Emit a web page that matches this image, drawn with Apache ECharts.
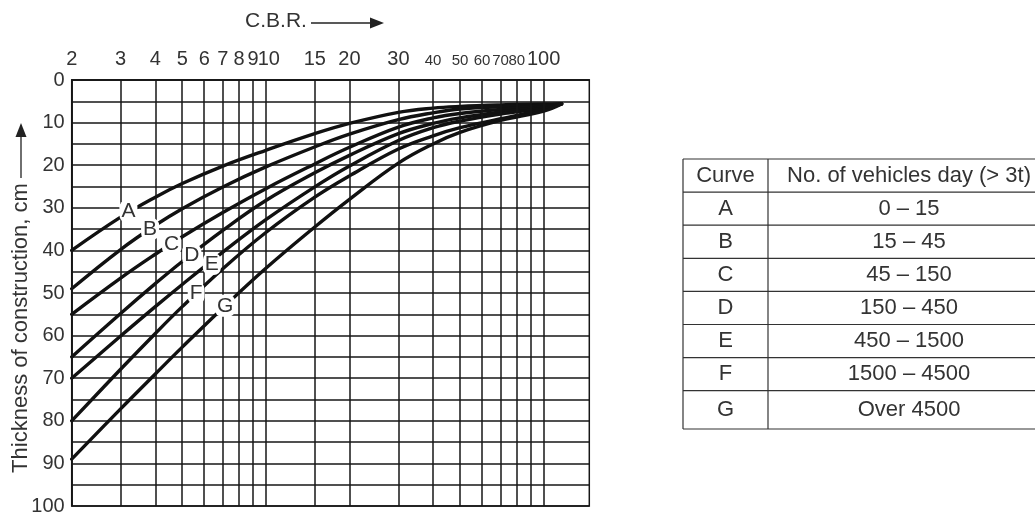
<!DOCTYPE html>
<html><head><meta charset="utf-8">
<script src="https://cdn.jsdelivr.net/npm/echarts@6.0.0/dist/echarts.min.js"></script>
<style>html,body{margin:0;padding:0;background:#fff}#c{width:1035px;height:516px}</style>
</head><body><div id="c"></div>
<script>
// C.B.R. sample points at which the curves were read
const cbr = [2, 3, 4, 5, 7, 10, 15, 20, 30, 40, 50, 70, 100, 116];
// Thickness of construction (cm) for each curve
const curveA = [40, 32.2, 27.5, 24.3, 20.2, 16.5, 12.6, 10.2, 7.6, 6.6, 6.2, 5.85, 5.6, 5.6];
const curveB = [49, 39.8, 34.1, 30.2, 25.1, 20.4, 15.7, 12.7, 9.3, 7.7, 6.8, 6.3, 5.9, 5.6];
const curveC = [55, 46.5, 40.9, 36.8, 31.1, 25.5, 19.7, 15.8, 11.05, 8.9, 7.85, 6.9, 6.0, 5.6];
const curveD = [65, 54.8, 47.8, 42.6, 35.3, 28.3, 21.8, 17.7, 12.6, 10.2, 8.9, 7.5, 6.3, 5.6];
const curveE = [70, 60.1, 53.2, 48.0, 40.4, 32.8, 25.1, 20.2, 14.2, 11.2, 9.65, 8.0, 6.6, 5.6];
const curveF = [80, 67.9, 59.5, 53.2, 44.3, 35.8, 27.5, 22.5, 16.2, 13.1, 11.2, 9.1, 6.9, 5.6];
const curveG = [89, 77.2, 69, 62.7, 53.5, 44.2, 34.5, 28, 19.5, 15, 12.3, 9.5, 7.3, 5.6];
const curves = [curveA, curveB, curveC, curveD, curveE, curveF, curveG];
const curveNames = ['A', 'B', 'C', 'D', 'E', 'F', 'G'];
const vehicleRanges = ['0 \u2013 15', '15 \u2013 45', '45 \u2013 150', '150 \u2013 450', '450 \u2013 1500', '1500 \u2013 4500', 'Over 4500'];
const tableHeader = ['Curve', 'No. of vehicles day (> 3t)'];
// where the curve letters sit on the curves
const labelCBR = [3.2, 3.83, 4.58, 5.41, 6.39, 5.61, 7.13];
const labelThickness = [30.8, 35.0, 38.6, 41.1, 43.2, 50.0, 53.0];
// axes
const xGridValues = [2, 3, 4, 5, 6, 7, 8, 9, 10, 15, 20, 30, 40, 50, 60, 70, 80, 90, 100];
const xTickValues = [2, 3, 4, 5, 6, 7, 8, 9, 10, 15, 20, 30, 40, 50, 60, 70, 80, 100];
const xTickLabels = ['2', '3', '4', '5', '6', '7', '8', '9', '10', '15', '20', '30', '40', '50', '60', '70', '80', '100'];
const xSmallTickValues = [40, 50, 60, 70, 80];
const xMin = 2, xMax = 146;
const yMin = 0, yMax = 100, yStep = 5, yLabelStep = 10;
const xTitle = 'C.B.R.';
const yTitle = 'Thickness of construction, cm';

const FONT = '"Liberation Sans", Arial, sans-serif';
const INK = '#161616';
const chart = echarts.init(document.getElementById('c'), null, {renderer: 'canvas'});

const series = [];
series.push({
  type: 'line', data: [[xMin, yMin]], symbol: 'none', lineStyle: {opacity: 0}, silent: true, z: 1,
  markLine: {
    silent: true, symbol: ['none', 'none'], animation: false, label: {show: false},
    lineStyle: {color: INK, width: 1.5, type: 'solid'},
    emphasis: {disabled: true},
    data: xGridValues.map(v => ({xAxis: v}))
  }
});
curves.forEach((arr, k) => {
  series.push({
    name: curveNames[k], type: 'line', z: 3,
    data: cbr.map((c, i) => [c, arr[i]]),
    smooth: 0.4, symbol: 'none',
    lineStyle: {color: '#111', width: 3.4, cap: 'round'}
  });
});
series.push({
  type: 'scatter', z: 6, symbolSize: 0, silent: true,
  itemStyle: {opacity: 1},
  data: labelCBR.map((c, i) => [c, labelThickness[i], curveNames[i]]),
  label: {
    show: true, position: 'inside', formatter: p => p.data[2],
    fontSize: 21, color: '#333', fontFamily: FONT,
    backgroundColor: '#fff', padding: [1, 2, 0, 2], borderRadius: 7
  }
});
series.push({
  type: 'scatter', z: 6, symbolSize: 0, silent: true, clip: false,
  itemStyle: {opacity: 1},
  data: xTickValues.map((v, i) => {
    const small = xSmallTickValues.indexOf(v) >= 0;
    const lab = {fontSize: small ? 15 : 20, distance: small ? 12 : 11};
    if (xTickLabels[i] === '10') lab.offset = [3, 0];
    return {value: [v, yMin], name: xTickLabels[i], label: lab};
  }),
  label: {show: true, position: 'top', formatter: p => p.name, color: '#333', fontFamily: FONT}
});

const graphic = [];
// x title with arrow
graphic.push({type: 'text', x: 276, y: 21, style: {text: xTitle, fill: '#333', font: '21px ' + FONT, textAlign: 'center', textVerticalAlign: 'middle'}});
graphic.push({type: 'line', shape: {x1: 311, y1: 23, x2: 372, y2: 23}, style: {stroke: '#222', lineWidth: 1.3}});
graphic.push({type: 'polygon', shape: {points: [[384, 23], [370, 17.5], [370, 28.5]]}, style: {fill: '#222'}});
// y title with arrow
graphic.push({type: 'text', x: 21, y: 328, rotation: Math.PI / 2, style: {text: yTitle, fill: '#333', font: '22px ' + FONT, textAlign: 'center', textVerticalAlign: 'middle'}});
graphic.push({type: 'line', shape: {x1: 21, y1: 178, x2: 21, y2: 136}, style: {stroke: '#222', lineWidth: 1.3}});
graphic.push({type: 'polygon', shape: {points: [[21, 123], [15.5, 137], [26.5, 137]]}, style: {fill: '#222'}});
// table
const tL = 683, tM = 768, tR = 1050, tTop = 159, rowH = 33.1, tBot = 429;
const rowYs = [tTop];
for (let i = 1; i <= curveNames.length; i++) rowYs.push(tTop + rowH * i);
rowYs.push(tBot);
rowYs.forEach(y => graphic.push({type: 'line', shape: {x1: tL, y1: y, x2: tR, y2: y}, style: {stroke: '#333', lineWidth: 1.2}}));
[tL, tM].forEach(x => graphic.push({type: 'line', shape: {x1: x, y1: tTop, x2: x, y2: tBot}, style: {stroke: '#333', lineWidth: 1.2}}));
const cells = [tableHeader].concat(curveNames.map((n, i) => [n, vehicleRanges[i]]));
cells.forEach((row, r) => {
  const yc = (rowYs[r] + rowYs[r + 1]) / 2;
  graphic.push({type: 'text', x: (tL + tM) / 2, y: yc, style: {text: row[0], fill: '#333', font: '22px ' + FONT, textAlign: 'center', textVerticalAlign: 'middle'}});
  graphic.push({type: 'text', x: 909, y: yc, style: {text: row[1], fill: '#333', font: '22px ' + FONT, textAlign: 'center', textVerticalAlign: 'middle'}});
});

chart.setOption({
  animation: false,
  textStyle: {fontFamily: FONT},
  grid: {left: 71.7, right: 445.7, top: 80, bottom: 8, show: true, borderColor: INK, borderWidth: 1.5, backgroundColor: 'transparent'},
  xAxis: {
    type: 'log', logBase: 10, min: xMin, max: xMax, position: 'top',
    axisLine: {show: true, lineStyle: {color: INK, width: 1.5}},
    axisTick: {show: false}, axisLabel: {show: false}, splitLine: {show: false}, minorSplitLine: {show: false}
  },
  yAxis: {
    type: 'value', inverse: true, min: yMin, max: yMax, interval: yStep,
    axisLine: {show: true, lineStyle: {color: INK, width: 1.5}},
    axisTick: {show: false},
    axisLabel: {fontSize: 20, color: '#333', margin: 7, fontFamily: FONT, formatter: v => (v % yLabelStep === 0 ? String(v) : '')},
    splitLine: {show: true, lineStyle: {color: INK, width: 1.5}}
  },
  series: series,
  graphic: graphic
});
</script></body></html>
